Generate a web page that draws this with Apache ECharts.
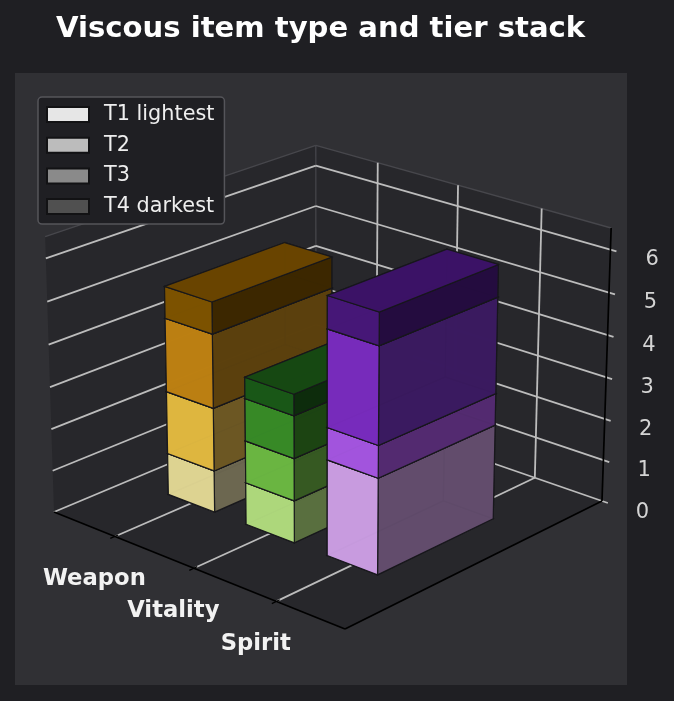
<!DOCTYPE html>
<html><head><meta charset="utf-8">
<style>html,body{margin:0;padding:0;background:#1f1f23}#c{width:674px;height:701px}</style>
<script src="https://cdn.jsdelivr.net/npm/echarts@6/dist/echarts.min.js"></script>
</head><body><div id="c"></div>
<script>
// ---- data ----
const categories = ['Weapon', 'Vitality', 'Spirit'];
const tierNames = ['T1 lightest', 'T2', 'T3', 'T4 darkest'];
const t1Values = [1, 1, 2.25];
const t2Values = [1.5, 1, 0.75];
const t3Values = [1.75, 1, 2.25];
const t4Values = [0.75, 0.5, 0.75];
const zTicks = [0, 1, 2, 3, 4, 5, 6];

// ---- styles ----
const legendColors = ['#e6e6e6', '#bcbcbc', '#8a8a8a', '#505050'];
const frontColors = [
  ['#e2d794', '#e3ba41', '#bf8213', '#7f5400'],
  ['#b1dc7e', '#6cb943', '#388c28', '#1a5a18'],
  ['#cc9ee4', '#a656e2', '#7a2cc0', '#48187a']];
const sideColors = [
  ['#6c6750', '#6c5723', '#5c410e', '#3c2800'],
  ['#5a6f40', '#365a22', '#1c4513', '#0e2d0c'],
  ['#624c6c', '#532b70', '#3a1a60', '#240c40']];
const topColors = ['#6b4600', '#174a13', '#3c1368'];

// ---- 3D axes and camera (homogeneous projection of the unit box) ----
const xLim = [-0.8, 2.8], yLim = [0, 1], zMax = 6.5;
const barWidth = 0.6, barY0 = 0.276, barY1 = 0.725;
const PX = [265.13, 288.82, -1.585, 54];
const PY = [69.83, -75.88, -43.54, 512];
const PW = [-0.07499, 0.08487, -0.00492, 1];
const uOf = x => (x - xLim[0]) / (xLim[1] - xLim[0]);
function project(u, v, w) {
  const d = PW[0]*u + PW[1]*v + PW[2]*w + PW[3];
  return [(PX[0]*u + PX[1]*v + PX[2]*w + PX[3]) / d, (PY[0]*u + PY[1]*v + PY[2]*w + PY[3]) / d];
}

const paneColor = '#27272b', edgeColor = '#47474c', gridColor = '#bcbcbc', axisColor = '#000000';
const panes = [
  [[0,0,0],[1,0,0],[1,1,0],[0,1,0]],
  [[0,0,0],[0,1,0],[0,1,zMax],[0,0,zMax]],
  [[0,1,0],[1,1,0],[1,1,zMax],[0,1,zMax]]];
const segs = [];
segs.push([[0,0,zMax],[0,1,zMax],edgeColor,1.4]);
segs.push([[0,1,zMax],[1,1,zMax],edgeColor,1.4]);
segs.push([[0,1,0],[0,1,zMax],edgeColor,1.2]);
zTicks.forEach(z => {
  segs.push([[0,0,z],[0,1,z],gridColor,1.8]);
  segs.push([[0,1,z],[1.019,1,z],gridColor,1.8]);
});
categories.forEach((c,i) => {
  const u = uOf(i);
  segs.push([[u,0,0],[u,1,0],gridColor,1.8]);
  segs.push([[u,1,0],[u,1,zMax],gridColor,1.8]);
  segs.push([[u,0.012,0],[u,-0.016,0],axisColor,1.3]);
});
segs.push([[0,0,0],[1,0,0],axisColor,1.7]);
segs.push([[1,0,0],[1,1,0],axisColor,1.7]);
segs.push([[1,1,0],[1,1,zMax],axisColor,1.7]);

function tierSeries(name, values, tier) {
  const lower = [t1Values, t2Values, t3Values, t4Values].slice(0, tier);
  return {
    name, type: 'custom', coordinateSystem: 'cartesian2d', z: 3, silent: true,
    itemStyle: {color: legendColors[tier], borderColor: '#121214', borderWidth: 2},
    data: values.map((v, i) => [i, lower.reduce((s, a) => s + a[i], 0), v]),
    renderItem(params, api) {
      const i = api.value(0), z0 = api.value(1), z1 = z0 + api.value(2);
      const u0 = uOf(i - barWidth/2), u1 = uOf(i + barWidth/2), v0 = barY0, v1 = barY1;
      const side = sideColors[i][tier], front = frontColors[i][tier];
      const top = tier === 3 ? topColors[i] : side;
      const faces = [
        [[[u0,v0,z0],[u1,v0,z0],[u1,v1,z0],[u0,v1,z0]], side],
        [[[u0,v1,z0],[u1,v1,z0],[u1,v1,z1],[u0,v1,z1]], side],
        [[[u0,v0,z0],[u0,v1,z0],[u0,v1,z1],[u0,v0,z1]], side],
        [[[u1,v0,z0],[u1,v1,z0],[u1,v1,z1],[u1,v0,z1]], side],
        [[[u0,v0,z0],[u1,v0,z0],[u1,v0,z1],[u0,v0,z1]], front],
        [[[u0,v0,z1],[u1,v0,z1],[u1,v1,z1],[u0,v1,z1]], top]];
      return {type: 'group', children: faces.map((f, k) => ({
        type: 'polygon', z2: i*100 + tier*10 + k,
        shape: {points: f[0].map(p => api.coord(project(p[0], p[1], p[2])))},
        style: {fill: f[1], stroke: '#17171b', lineWidth: 1.2, opacity: 0.96}
      }))};
    }
  };
}

function textEl(api, p, text, font, fill) {
  const c = api.coord(p);
  return {type: 'text', style: {text, x: c[0], y: c[1], font, fill,
    align: 'center', verticalAlign: 'middle', textAlign: 'center', textVerticalAlign: 'middle'}};
}

const option = {
  backgroundColor: '#1f1f23',
  animation: false,
  title: {text: 'Viscous item type and tier stack', left: 51, top: 10,
    textStyle: {color: '#ffffff', fontFamily: 'DejaVu Sans', fontWeight: 'bold', fontSize: 29.1}},
  legend: {
    left: 38, top: 97, orient: 'vertical', selectedMode: false,
    data: tierNames, icon: 'rect', itemWidth: 42, itemHeight: 15, itemGap: 9.7, padding: [7,10,7,8],
    backgroundColor: '#1f1f23', borderColor: '#55555a', borderWidth: 1.5, borderRadius: 4,
    textStyle: {color: '#eeeeee', fontFamily: 'DejaVu Sans', fontSize: 20.8, padding: [0,0,0,10]}
  },
  grid: {show: true, left: 15, top: 73, width: 612, height: 612, backgroundColor: '#303034', borderWidth: 0},
  xAxis: {type: 'value', min: 15, max: 627, show: false},
  yAxis: {type: 'value', min: 73, max: 685, inverse: true, show: false},
  series: [
    {type: 'custom', coordinateSystem: 'cartesian2d', z: 2, silent: true, data: panes.map((p,i)=>[i]),
     renderItem(params, api) {
       return {type:'polygon', shape:{points: panes[params.dataIndex].map(p=>api.coord(project(p[0],p[1],p[2])))},
         style:{fill:paneColor}};
     }},
    {type: 'custom', coordinateSystem: 'cartesian2d', z: 2.5, silent: true, data: segs.map((s,i)=>[i]),
     renderItem(params, api) {
       const s = segs[params.dataIndex];
       return {type:'line', z2: params.dataIndex, shape:(()=>{const a=api.coord(project(...s[0])),b=api.coord(project(...s[1]));return {x1:a[0],y1:a[1],x2:b[0],y2:b[1]};})(),
         style:{stroke:s[2],lineWidth:s[3],fill:null}};
     }},
    tierSeries(tierNames[0], t1Values, 0),
    tierSeries(tierNames[1], t2Values, 1),
    tierSeries(tierNames[2], t3Values, 2),
    tierSeries(tierNames[3], t4Values, 3),
    {type:'custom', coordinateSystem:'cartesian2d', z:4, silent:true, data: categories.map((c,i)=>[i]),
     renderItem(params, api){
       const i=params.dataIndex, t=project(uOf(i),0,0);
       return textEl(api, [t[0]-20.5, t[1]+43], categories[i], 'bold 22.7px "DejaVu Sans"', '#f2f2f2');
     }},
    {type:'custom', coordinateSystem:'cartesian2d', z:4, silent:true, data: zTicks.map((c,i)=>[i]),
     renderItem(params, api){
       const z=zTicks[params.dataIndex], p=project(1.111, 1.024, z);
       return textEl(api, [p[0]+0.5, p[1]+2], String(z), '21px "DejaVu Sans"', '#d4d4d4');
     }}
  ]
};
echarts.init(document.getElementById('c')).setOption(option);
</script></body></html>
